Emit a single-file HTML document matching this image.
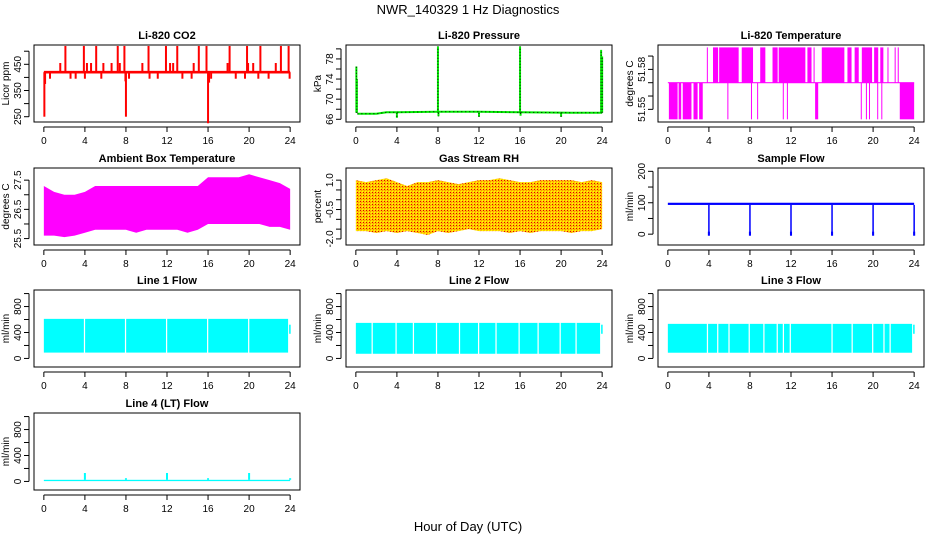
<!DOCTYPE html>
<html><head><meta charset="utf-8"><title>NWR_140329 1 Hz Diagnostics</title>
<style>
html,body{margin:0;padding:0;background:#fff;}
svg{display:block;font-family:"Liberation Sans",Arial,sans-serif;}
</style></head>
<body>
<svg id="chart" width="936" height="540" viewBox="0 0 936 540" xmlns="http://www.w3.org/2000/svg">
<defs>
<pattern id="rhpat" width="3" height="3" patternUnits="userSpaceOnUse">
<rect width="3" height="3" fill="#ffc800"/><rect width="1" height="1" fill="#e00000"/><rect x="1" y="1" width="1" height="1" fill="#ff9000"/><rect x="2" y="2" width="1" height="1" fill="#ffff00"/>
</pattern>
</defs>
<text x="468" y="14" font-size="13" text-anchor="middle">NWR_140329  1 Hz Diagnostics</text>
<text x="468" y="531" font-size="13" text-anchor="middle">Hour of Day (UTC)</text>
</svg>
<script>
// ---------- data ----------
const xTicks = [0,4,8,12,16,20,24];
// Li-820 CO2
const co2Base = 420;
const co2EventHours = [2.1,3.9,5.1,7.2,7.85,10.2,11.9,13.0,15.1,15.85,18.1,19.8,21.1,23.1,23.85,
  1.6,4.2,4.6,5.8,6.6,7.4,9.6,12.3,12.6,14.6,17.9,19.9,20.4,22.6,
  0.6,2.6,3.1,4.0,5.6,8.3,10.3,11.1,13.5,14.4,16.3,18.7,19.6,20.9,21.9,23.95,
  0.05,8.0,16.0,0.12,16.1,7.95];
const co2EventValues = [520,520,520,520,520,520,520,520,520,520,520,520,520,520,520,
  455,455,455,455,455,455,455,455,455,455,455,455,455,455,
  395,395,395,395,395,395,395,395,395,395,395,395,395,395,395,395,
  250,250,225,375,380,385];
// Li-820 Pressure
const pressBaseHours = [0.15,2,3,4,8,12,16,21,24];
const pressBaseValues = [67.1,67.1,67.4,67.4,67.5,67.5,67.4,67.3,67.3];
const pressEventHours = [0.05,0.1,8.0,16.0,23.9,24.0,4.0,12.0,20.0,8.05,16.05];
const pressEventValues = [76.5,74.0,80.5,80.5,79.8,78.5,66.3,66.5,66.5,66.6,66.7];
// Li-820 Temperature
const tempMid = 51.57, tempHigh = 51.5965, tempLow = 51.5425;
const tempLowBands = [[0.1,0.95],[1.05,1.3],[1.45,2.3],[2.5,2.9],[3.05,3.4],[5.8,5.85],[8.1,8.15],[8.7,8.75],[11.2,11.25],[11.6,11.65],[14.35,14.65],[18.8,18.85],[19.3,19.35],[19.6,19.65],[20.4,20.45],[20.8,20.85],[22.6,24.0]];
const tempHighBands = [[3.8,3.85],[4.4,4.9],[5.0,6.9],[7.2,8.3],[9.0,9.5],[10.2,10.7],[10.8,13.4],[13.6,14.0],[14.2,14.3],[15.0,17.2],[17.5,17.9],[18.2,18.6],[18.9,19.9],[20.1,20.5],[20.7,21.0],[21.4,21.5],[22.1,22.2],[22.4,22.5]];
// Ambient box temperature (hourly envelope)
const ambMax = [27.3,27.1,27.0,27.0,27.1,27.3,27.3,27.3,27.3,27.3,27.3,27.3,27.3,27.3,27.3,27.3,27.6,27.6,27.6,27.6,27.7,27.6,27.5,27.4,27.2];
const ambMin = [25.6,25.6,25.55,25.6,25.7,25.8,25.8,25.8,25.8,25.7,25.8,25.8,25.8,25.8,25.7,25.8,26.0,26.0,26.0,26.0,26.0,26.0,25.9,25.9,25.8];
// Gas stream RH (hourly envelope)
const rhMax = [1.0,0.9,1.0,1.1,0.9,0.7,0.9,0.9,1.0,0.9,0.8,0.9,1.0,1.0,1.1,1.0,0.9,0.9,1.0,1.0,1.0,1.0,0.9,1.0,0.9];
const rhMin = [-1.6,-1.6,-1.7,-1.6,-1.7,-1.6,-1.7,-1.8,-1.6,-1.7,-1.6,-1.5,-1.6,-1.6,-1.6,-1.7,-1.6,-1.7,-1.6,-1.6,-1.6,-1.7,-1.6,-1.6,-1.5];
// Sample flow
const sampleBase = [93,100];
const sampleDipHours = [4,8,12,16,20,24];
const sampleDipValues = [0,0,0,0,0,0];
// Line flows
const line1Range = [90,610];
const line1Gaps = [3.9,7.9,11.9,15.9,19.9];
const line2Range = [72,548];
const line2Gaps = [1.53,3.86,5.55,7.8,10.04,11.9,13.6,15.85,17.7,19.85,21.4];
const line3Range = [88,533];
const line3Gaps = [3.8,4.8,5.9,7.87,9.3,10.6,11.2,11.87,15.94,17.9,19.9,21.0,21.6];
const line4Base = [5,25];
const line4SpikeHours = [4,8,12,16,20,24];
const line4SpikeValues = [130,50,130,50,130,50];

// ---------- layout ----------
const svg = document.getElementById('chart');
const NS = 'http://www.w3.org/2000/svg';
const W = 266, H = 77;
function mk(tag, attrs, parent){
  const e = document.createElementNS(NS, tag);
  for (const k in attrs) e.setAttribute(k, attrs[k]);
  (parent||svg).appendChild(e);
  return e;
}
function panel(l, t, top, bot){
  return {l:l, t:t, top:top, bot:bot,
    x: h => l + 9.85 + h*(W/25.92),
    y: v => t + (top - v)/(top - bot)*H};
}
function frame(p, name, title, ylab, ticks, labels){
  const g = mk('g', {});
  
  
  const tt = mk('text', {x:p.l+W/2, y:p.t-6, 'font-size':11, 'font-weight':'bold', 'text-anchor':'middle'}, g);
  
  
  tt.textContent = title;
  const yl = mk('text', {x:0, y:0, 'font-size':10, 'text-anchor':'middle', transform:`translate(${p.l-25},${p.t+H/2}) rotate(-90)`}, g);
  
  
  yl.textContent = ylab;
  const box = mk('rect', {x:p.l, y:p.t, width:W, height:H, fill:'none', stroke:'#000', 'stroke-width':1}, g);
  
  
  const xa = mk('g', {}, g);
  
  
  mk('line', {x1:p.x(xTicks[0]), x2:p.x(xTicks[xTicks.length-1]), y1:p.t+H+5, y2:p.t+H+5, stroke:'#000'}, xa);
  xTicks.forEach(h => {
    mk('line', {x1:p.x(h), x2:p.x(h), y1:p.t+H+5, y2:p.t+H+10, stroke:'#000'}, xa);
    const tx = mk('text', {x:p.x(h), y:p.t+H+22, 'font-size':10, 'text-anchor':'middle'}, xa);
    
    
    tx.textContent = h;
  });
  const ya = mk('g', {}, g);
  
  
  mk('line', {x1:p.l-5, x2:p.l-5, y1:p.y(ticks[0]), y2:p.y(ticks[ticks.length-1]), stroke:'#000'}, ya);
  ticks.forEach(v => mk('line', {x1:p.l-10, x2:p.l-5, y1:p.y(v), y2:p.y(v), stroke:'#000'}, ya));
  labels.forEach(s => {
    const tx = mk('text', {x:0, y:0, 'font-size':10, 'text-anchor':'middle', transform:`translate(${p.l-13},${p.y(Number(s))}) rotate(-90)`}, ya);
    
    
    tx.textContent = s;
  });
  const d = mk('g', {}, g);
  
  
  return d;
}
function vline(p, g, h, v1, v2, color, w){
  return mk('line', {x1:p.x(h), x2:p.x(h), y1:p.y(v1), y2:p.y(v2), stroke:color, 'stroke-width':w||1.5}, g);
}
function band(p, g, h1, h2, v1, v2, color){
  return mk('rect', {x:p.x(h1), y:p.y(Math.max(v1,v2)), width:Math.max(1,p.x(h2)-p.x(h1)), height:Math.abs(p.y(v1)-p.y(v2)), fill:color}, g);
}
function envelope(p, g, maxArr, minArr, fill){
  let pts = maxArr.map((v,i)=>p.x(i)+','+p.y(v));
  pts = pts.concat(minArr.map((v,i)=>p.x(i)+','+p.y(v)).reverse());
  return mk('polygon', {points:pts.join(' '), fill:fill}, g);
}
function flowBand(p, g, range, gaps, color){
  const edges = [0].concat(gaps).concat([23.8]);
  for (let i=0;i<edges.length-1;i++){
    const r = band(p, g, edges[i]+(i?0.12:0), edges[i+1], range[0], range[1], color);
    
  }
  const e = band(p, g, 23.9, 24.05, 380, 520, color);
  
}

const cols = [34, 346, 658], rows = [45, 168, 290, 413];

// CO2
let p = panel(cols[0], rows[0], 523.7, 229.8);
let g = frame(p, 'co2', 'Li-820 CO2', 'Licor ppm', [250,300,350,400,450,500], ['250','350','450']);
let el = band(p, g, 0, 24, co2Base-5, co2Base+5, '#ff0000');

co2EventHours.forEach((h,i) => {
  const ln = vline(p, g, h, co2Base, co2EventValues[i], '#ff0000', 2);
  
});

// Pressure
p = panel(cols[1], rows[0], 80.77, 65.46);
g = frame(p, 'pressure', 'Li-820 Pressure', 'kPa', [66,68,70,72,74,76,78,80], ['66','70','74','78']);
el = mk('polyline', {points:pressBaseHours.map((h,i)=>p.x(h)+','+p.y(pressBaseValues[i])).join(' '), fill:'none', stroke:'#00ee00', 'stroke-width':2}, g);

el = mk('polyline', {points:pressBaseHours.map((h,i)=>p.x(h)+','+p.y(pressBaseValues[i])).join(' '), fill:'none', stroke:'#000', 'stroke-width':1, 'stroke-dasharray':'1,3'}, g);

pressEventHours.forEach((h,i) => {
  const ln = vline(p, g, h, 67.3, pressEventValues[i], '#00ee00', 2);
  
  const dl = mk('line', {x1:p.x(h), x2:p.x(h), y1:p.y(67.3), y2:p.y(pressEventValues[i]), stroke:'#000', 'stroke-width':1, 'stroke-dasharray':'1,2'}, g);
  
});

// Li-820 temperature
p = panel(cols[2], rows[0], 51.5983, 51.5405);
g = frame(p, 'li820-temp', 'Li-820 Temperature', 'degrees C', [51.55,51.56,51.57,51.58,51.59], ['51.55','51.58']);
el = band(p, g, 0, 24, tempMid-0.0004, tempMid+0.0004, '#ff00ff');

tempLowBands.forEach(b => {
  const r = band(p, g, b[0], b[1], tempLow, tempMid, '#ff00ff');
  
});
tempHighBands.forEach(b => {
  const r = band(p, g, b[0], b[1], tempMid, tempHigh, '#ff00ff');
  
});

// Ambient box temperature
p = panel(cols[0], rows[1], 27.916, 25.28);
g = frame(p, 'ambient-temp', 'Ambient Box Temperature', 'degrees C', [25.5,26,26.5,27,27.5], ['25.5','26.5','27.5']);
el = envelope(p, g, ambMax, ambMin, '#ff00ff');


// Gas stream RH
p = panel(cols[1], rows[1], 1.62, -2.31);
g = frame(p, 'rh', 'Gas Stream RH', 'percent', [-2,-1.5,-1,-0.5,0,0.5,1], ['-2.0','-0.5','1.0']);
el = envelope(p, g, rhMax, rhMin, 'url(#rhpat)');


// Sample flow
p = panel(cols[2], rows[1], 210.6, -34.5);
g = frame(p, 'sample-flow', 'Sample Flow', 'ml/min', [0,50,100,150,200], ['0','100','200']);
el = band(p, g, 0, 24, sampleBase[0], sampleBase[1], '#0000ff');

sampleDipHours.forEach((h,i) => {
  const ln = vline(p, g, h, sampleBase[0], sampleDipValues[i], '#0000ff', 1.5);
  
  const sq = band(p, g, h-0.1, h+0.1, sampleDipValues[i]-5, sampleDipValues[i]+8, '#0000ff');
  
});

// Line flows
const flowTicks = [0,200,400,600,800,1000], flowLabels = ['0','400','800'];
p = panel(cols[0], rows[2], 1055, -132);
g = frame(p, 'line1-flow', 'Line 1 Flow', 'ml/min', flowTicks, flowLabels);
flowBand(p, g, line1Range, line1Gaps, '#00ffff');
p = panel(cols[1], rows[2], 1055, -132);
g = frame(p, 'line2-flow', 'Line 2 Flow', 'ml/min', flowTicks, flowLabels);
flowBand(p, g, line2Range, line2Gaps, '#00ffff');
p = panel(cols[2], rows[2], 1055, -132);
g = frame(p, 'line3-flow', 'Line 3 Flow', 'ml/min', flowTicks, flowLabels);
flowBand(p, g, line3Range, line3Gaps, '#00ffff');
p = panel(cols[0], rows[3], 1055, -132);
g = frame(p, 'line4-flow', 'Line 4 (LT) Flow', 'ml/min', flowTicks, flowLabels);
el = band(p, g, 0, 24, line4Base[0], line4Base[1], '#00ffff');

line4SpikeHours.forEach((h,i) => {
  const ln = vline(p, g, h, line4Base[1], line4SpikeValues[i], '#00ffff', 2);
  
});
</script>
</body></html>
